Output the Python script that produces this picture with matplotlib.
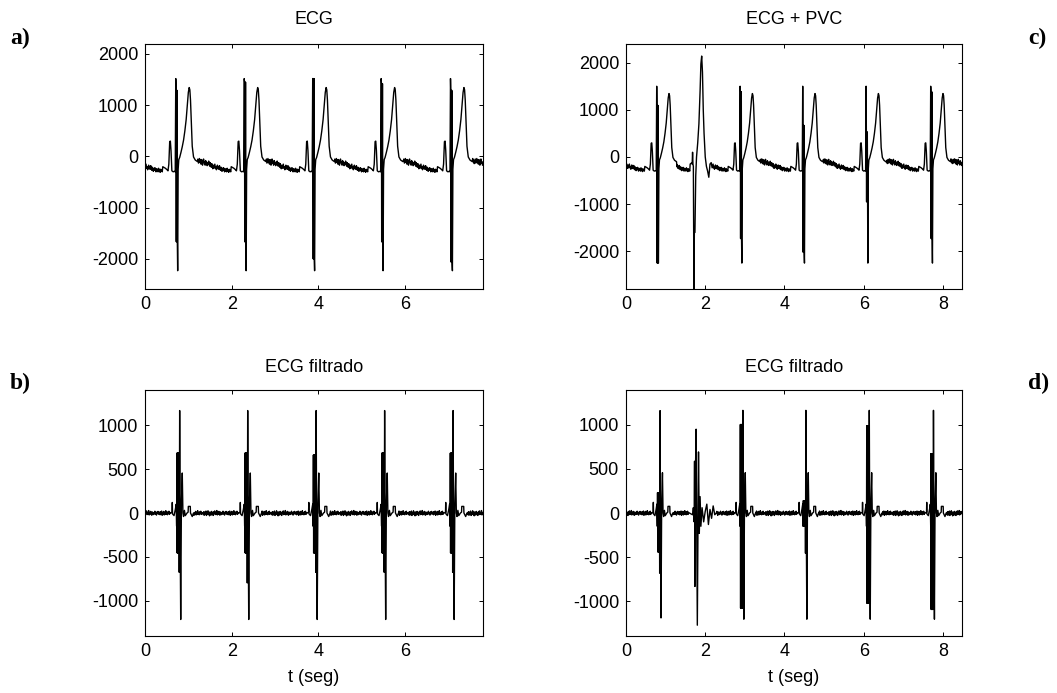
import numpy as np
import matplotlib
matplotlib.use("Agg")
import matplotlib.pyplot as plt

# ---------------- data ----------------
# (a) ECG: R-wave times (s) and QRS extremes per beat [R peak, thick top, thick bottom, S min]
beats_a = [0.71, 2.29, 3.87, 5.45, 7.05]
qrs_a = [[1520, 1290, -1665, -2230],
         [1520, 1450, -1665, -2230],
         [1520, 1520, -2000, -2230],
         [1520, 1420, -1665, -2230],
         [1520, 1290, -2060, -2230]]

# (c) ECG + PVC
beats_c = [0.775, 2.88, 4.46, 6.06, 7.69]
qrs_c = [[1500, 1094, -2250, -2250],
         [1500, 1380, -1730, -2250],
         [1500, 670, -2020, -2250],
         [1500, 530, -950, -2250],
         [1500, 1380, -1730, -2250]]
pvc_t = [1.62, 1.65, 1.67, 1.68, 1.69, 1.70, 1.715, 1.725, 1.74, 1.76, 1.78, 1.81,
         1.84, 1.87, 1.89, 1.91, 1.93, 1.95, 1.97, 2.00, 2.03, 2.06, 2.09, 2.12, 2.15]
pvc_v = [-150, -130, -150, 100, -150, -200, -2900, -1600, -1600, -400, 0, 300,
         700, 1400, 1970, 2140, 1800, 1000, 500, 0, -200, -300, -430, -150, -120]

# normal beat shape (offsets from R in s, amplitude)
p_off = [-0.30, -0.24, -0.20, -0.18, -0.16, -0.14, -0.125, -0.11, -0.09, -0.06, -0.03, -0.012]
p_val = [-200, -230, -260, -280, -150, 290, 300, 120, -280, -300, -290, -300]
qrs_off = [0.0, 0.006, 0.012, 0.018, 0.024, 0.030, 0.036, 0.044, 0.055]
t_off = [0.07, 0.09, 0.12, 0.15, 0.18, 0.21, 0.24, 0.27, 0.29, 0.31, 0.325, 0.34,
         0.36, 0.38, 0.41, 0.45, 0.50]
t_val = [-60, -20, 80, 190, 320, 500, 720, 1050, 1250, 1345, 1300, 1100,
         650, 200, -10, -70, -100]

# baseline jitter between beats (raw ECG and filtered ECG)
ripple_ecg = [-40, -110, -70, -140, -90, -50, -130, -80, -40, -120, -70, -150, -60, -110,
              -170, -90, -50, -130, -100, -170, -80, -140, -110, -180, -120, -160, -90,
              -150, -190, -120, -170, -210, -140, -190, -240, -170, -230, -190, -150, -230,
              -200, -260, -210, -170, -240, -200, -250, -180, -230, -270, -210, -250, -290,
              -230, -270, -220, -260, -300, -240, -280, -250, -300, -230, -280, -260, -310,
              -250, -290, -270, -300]
ripple_filt = [0, -20, 15, -25, 8, -12, 22, -28, 3, -15, 25, -18, 8, -32, 12, -6, -24, 18,
               -12, 2, -28, 14, -6, 24, -18, 0, -12, 28, -22, 6, -14, 18, -6, -26, 12, 0,
               -18, 6, -12, 20, -10, 2, -24, 12, -6, 18, -14, 0, 10, -20, 16, -8, 22, -26,
               4, -10, 18, -22, 8, -16, 26, -12, 0, -20, 14, -8, 20, -16, 6, 0]

# (b) filtered ECG: times of main spike, per beat [up, thick hi, thick lo, lo2, down, second up]
beats_b = [0.80, 2.37, 3.95, 5.53, 7.11]
filt_b = [[1166, 682, -455, -675, -1212, 455],
          [1166, 682, -455, -796, -1212, 455],
          [1166, 660, -455, -675, -1212, 455],
          [1166, 682, -455, -675, -1212, 455],
          [1166, 682, -455, -675, -1212, 455]]

# (d) filtered ECG + PVC
beats_d = [0.86, 2.95, 4.54, 6.14, 7.76]
filt_d = [[1157, 230, -440, -680, -1186, 455],
          [1160, 1000, -1075, -1075, -1200, 455],
          [1160, 140, -150, -455, -1200, 455],
          [1160, 985, -1020, -1020, -1200, 455],
          [1160, 670, -1090, -1090, -1200, 455]]
pvcf_t = [1.60, 1.68, 1.70, 1.72, 1.73, 1.74, 1.75, 1.77, 1.80, 1.83, 1.85, 1.87,
          1.89, 1.92, 1.96, 2.00, 2.04, 2.08, 2.12, 2.16, 2.20, 2.24, 2.28]
pvcf_v = [0, -20, 60, -100, 585, -830, 400, 947, -1268, 690, -230, 185,
          -150, 60, -100, 20, 100, -130, 40, -60, 80, -20, 0]

filt_off = [-0.20, -0.175, -0.17, -0.165, -0.13, -0.10, -0.08, -0.07, -0.064, -0.058,
            -0.052, -0.046, -0.040, -0.034, -0.028, -0.022, -0.016, -0.010, 0.0, 0.012,
            0.024, 0.04, 0.06, 0.075, 0.09, 0.11, 0.13, 0.17, 0.195, 0.20, 0.245, 0.25,
            0.29, 0.32]

x_end_left = 7.8
x_end_right = 8.48


# ---------------- helpers ----------------
def normal_beat(tr, q):
    R, Rm, Sm, Smin = q
    off = p_off + qrs_off + t_off
    val = p_val + [R, Rm, Sm, Rm, Sm, Rm, Sm, Smin, -250] + t_val
    return [tr + o for o in off], val


def filt_beat(tr, f):
    up, hi, lo, lo2, dn, sec = f
    val = [0, 10, 120, -10, -30, 40, 100, -150, hi, lo, hi, lo, hi, lo, hi, lo, hi, lo2,
           up, -300, dn, 100, sec, 0, -40, 30, -30, 0, 10, 75, 75, 0, -40, 0]
    return [tr + o for o in filt_off], val


def build(segments, t_end, ripple, dt=0.012):
    segments = sorted(segments, key=lambda s: s[0][0])
    ts, vs = [], []
    cur = 0.0
    bounds = [(s[0][0], s) for s in segments] + [(t_end, None)]
    for k, (start, seg) in enumerate(bounds):
        gap = start - cur
        n = int(gap / dt)
        if n > 0:
            if seg is None:
                vals = [ripple[i % len(ripple)] for i in range(n)]
            else:
                vals = [ripple[(len(ripple) - n + i) % len(ripple)] for i in range(n)]
            if k > 0:
                tt = np.linspace(cur, start, n + 2)[1:-1]
            else:
                tt = np.linspace(cur, start, n + 1)[:-1]
            ts.extend(tt)
            vs.extend(vals)
        if seg is not None:
            ts.extend(seg[0])
            vs.extend(seg[1])
            cur = seg[0][-1]
    ts.append(t_end)
    vs.append(vs[-1])
    return np.array(ts), np.array(vs)


seg_a = [normal_beat(t, q) for t, q in zip(beats_a, qrs_a)]
ta, ya = build(seg_a, x_end_left, ripple_ecg)

seg_c = [normal_beat(t, q) for t, q in zip(beats_c, qrs_c)] + [(pvc_t, pvc_v)]
tc, yc = build(seg_c, x_end_right, ripple_ecg)

seg_b = [filt_beat(t, f) for t, f in zip(beats_b, filt_b)]
tb, yb = build(seg_b, x_end_left, ripple_filt)

seg_d = [filt_beat(t, f) for t, f in zip(beats_d, filt_d)] + [(pvcf_t, pvcf_v)]
td, yd = build(seg_d, x_end_right, ripple_filt)

# ---------------- figure ----------------
W, H = 1057, 693
fig = plt.figure(figsize=(W / 100, H / 100), dpi=100)
sans = ['Liberation Sans', 'DejaVu Sans']
serif = ['Liberation Serif', 'DejaVu Serif']


def px_axes(l, t, r, b):
    return fig.add_axes([l / W, 1 - b / H, (r - l) / W, (b - t) / H])


axA = px_axes(145, 44, 483, 289)
axC = px_axes(626, 44, 962, 289)
axB = px_axes(145, 390, 483, 636)
axD = px_axes(626, 390, 962, 636)

for ax, t, y in [(axA, ta, ya), (axC, tc, yc), (axB, tb, yb), (axD, td, yd)]:
    ax.plot(t, y, color='black', lw=1.0)
    ax.tick_params(direction='in', length=3, width=0.7, top=True, right=True,
                   labelsize=13, pad=5)
    for s in ax.spines.values():
        s.set_linewidth(0.8)

axA.set_xlim(0, x_end_left)
axB.set_xlim(0, x_end_left)
axC.set_xlim(0, x_end_right)
axD.set_xlim(0, x_end_right)
axA.set_ylim(-2587, 2195)
axC.set_ylim(-2800, 2396)
axB.set_ylim(-1400, 1400)
axD.set_ylim(-1390, 1390)

xt_left = [0, 2, 4, 6]
xt_right = [0, 2, 4, 6, 8]
yt_top = [-2000, -1000, 0, 1000, 2000]
yt_bot = [-1000, -500, 0, 500, 1000]
for ax, xt, yt in [(axA, xt_left, yt_top), (axB, xt_left, yt_bot),
                   (axC, xt_right, yt_top), (axD, xt_right, yt_bot)]:
    ax.set_xticks(xt)
    ax.set_yticks(yt)
    ax.set_xticklabels([str(v) for v in xt], family=sans, fontsize=13)
    ax.set_yticklabels([str(v) for v in yt], family=sans, fontsize=13)


def ftext(x, y, s, **kw):
    fig.text(x / W, 1 - y / H, s, **kw)


ftext(314, 20, 'ECG', ha='center', va='center', fontsize=13, family=sans)
ftext(794, 20, 'ECG + PVC', ha='center', va='center', fontsize=13, family=sans)
ftext(314, 367, 'ECG filtrado', ha='center', va='center', fontsize=13, family=sans)
ftext(794, 367, 'ECG filtrado', ha='center', va='center', fontsize=13, family=sans)
ftext(314, 678, 't (seg)', ha='center', va='center', fontsize=13, family=sans)
ftext(794, 678, 't (seg)', ha='center', va='center', fontsize=13, family=sans)

ftext(10, 38, 'a)', ha='left', va='center', fontsize=17, family=serif, weight='bold')
ftext(1028, 38, 'c)', ha='left', va='center', fontsize=17, family=serif, weight='bold')
ftext(10, 383, 'b)', ha='left', va='center', fontsize=17, family=serif, weight='bold')
ftext(1028, 383, 'd)', ha='left', va='center', fontsize=17, family=serif, weight='bold')

fig.savefig('out.png', dpi=100)
